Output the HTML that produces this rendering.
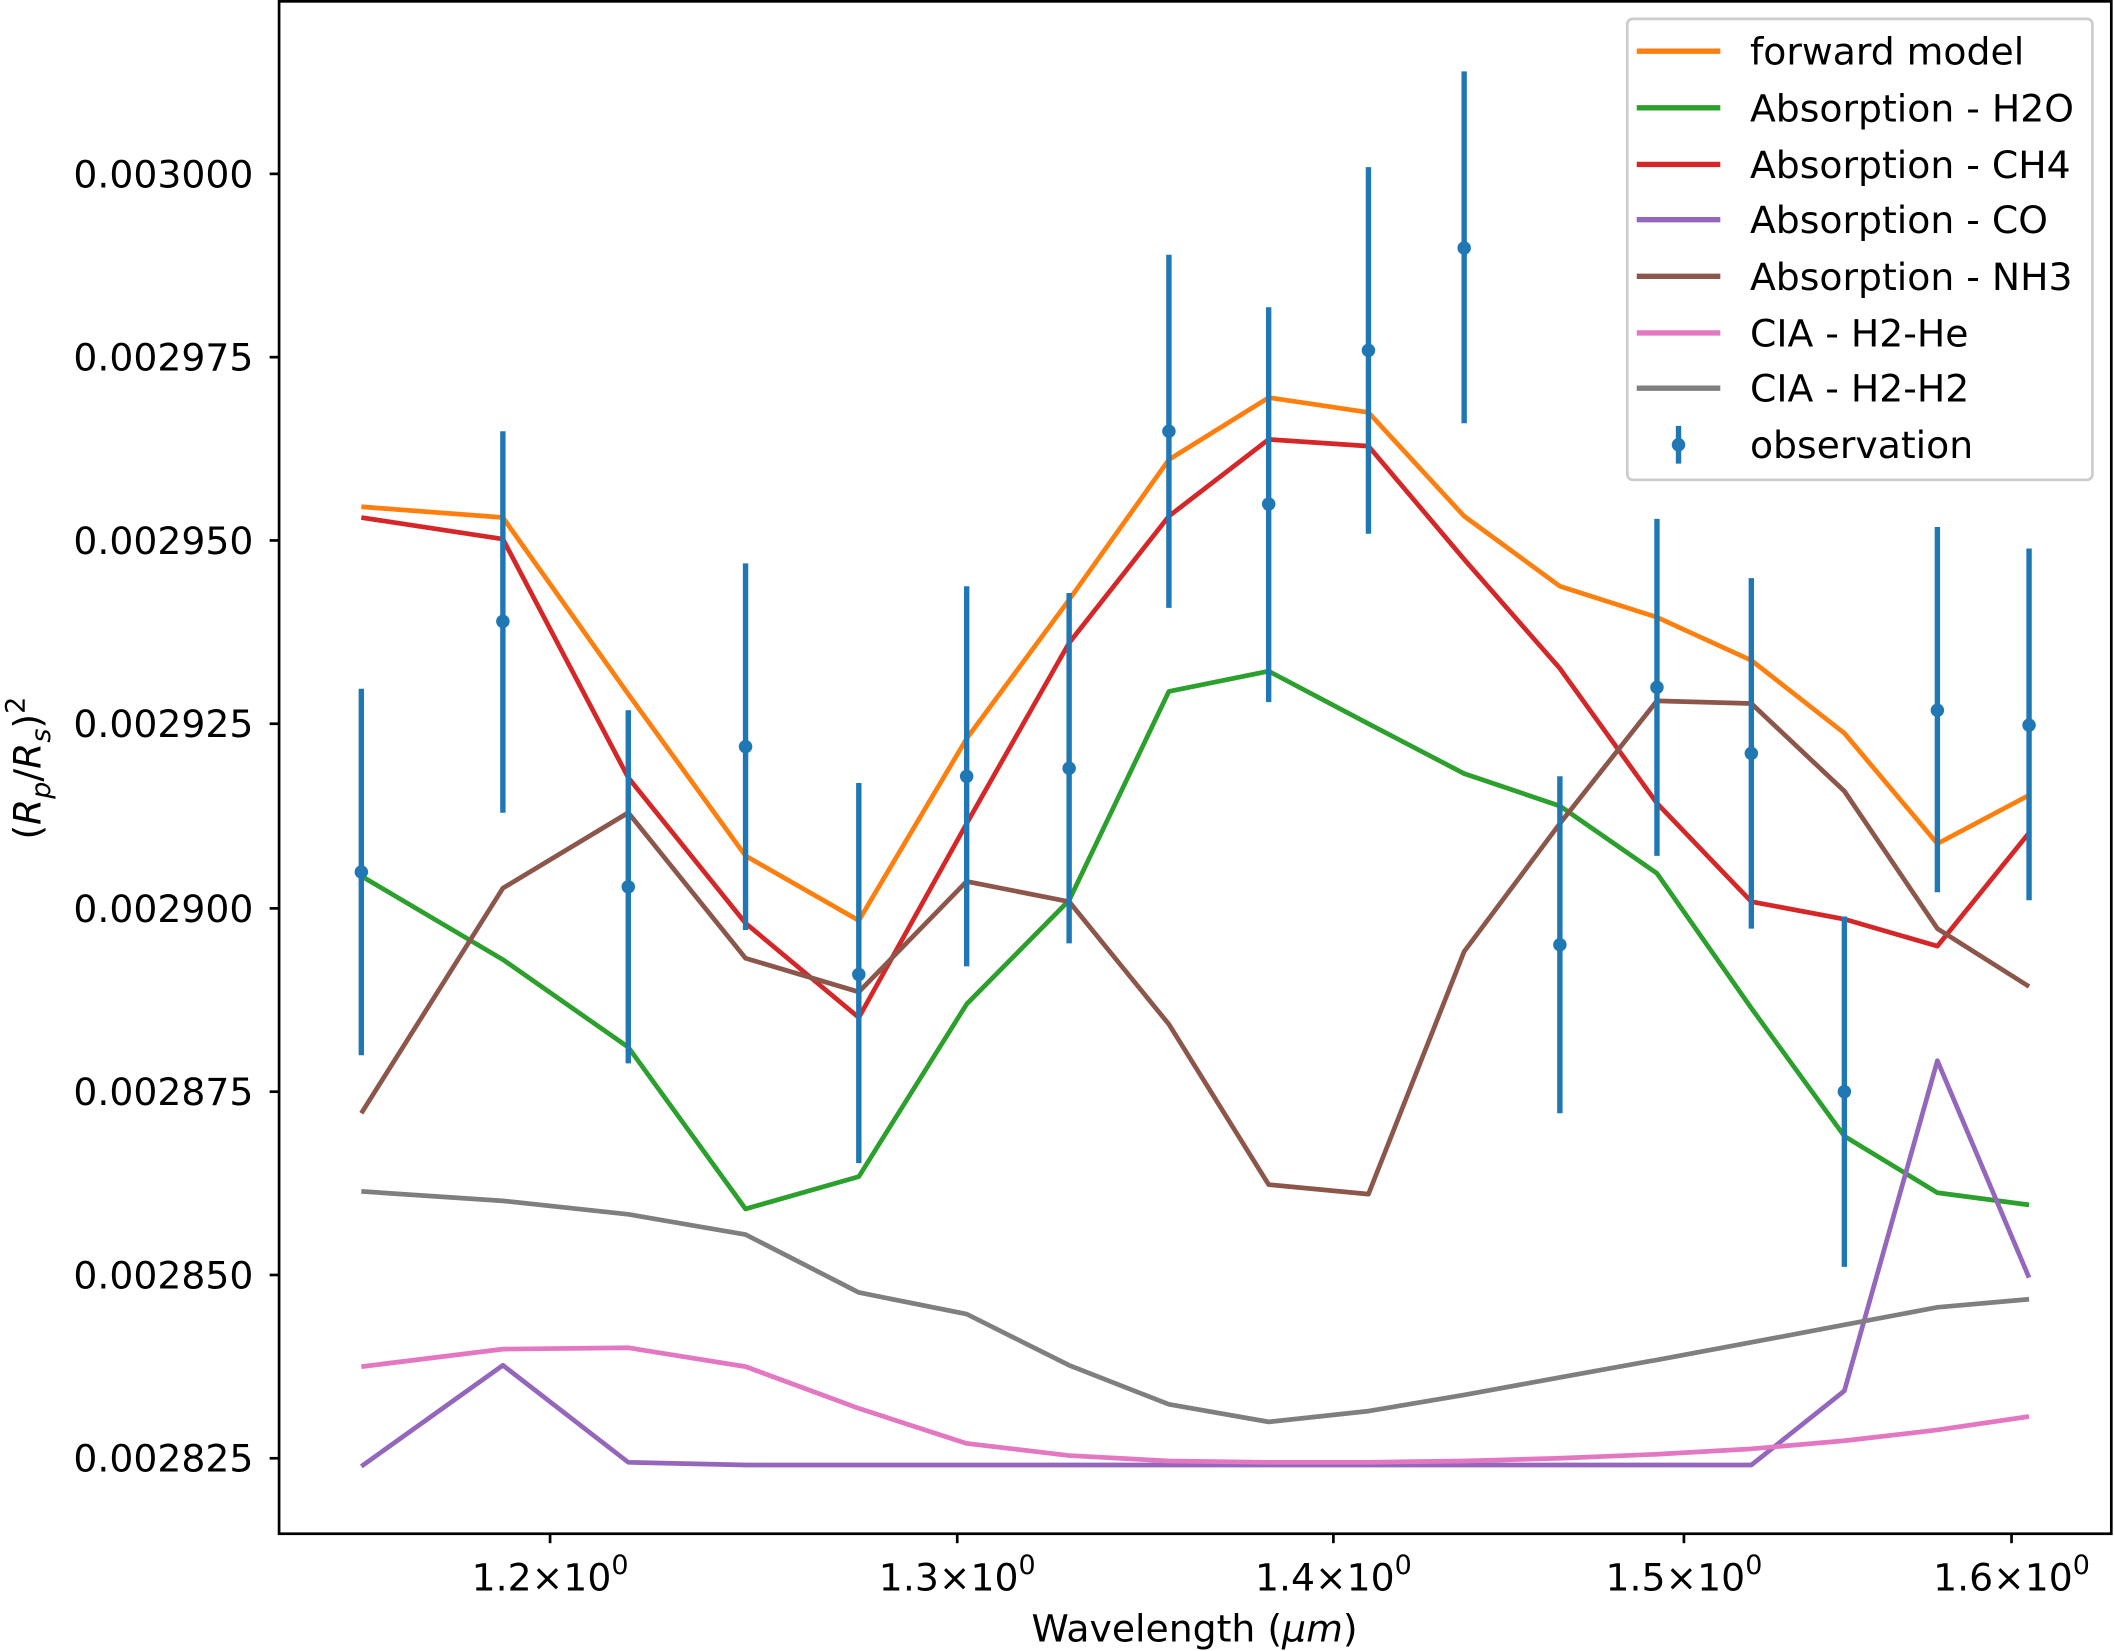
<!DOCTYPE html>
<html><head><meta charset="utf-8"><style>
html,body{margin:0;padding:0;background:#fff;}
svg{display:block;}
text{font-family:"DejaVu Sans","Liberation Sans",sans-serif;fill:#000;}
</style></head><body>
<svg width="2114" height="1651" viewBox="0 0 1568 1225" preserveAspectRatio="none" xmlns="http://www.w3.org/2000/svg">
<rect x="0" y="0" width="1568" height="1225" fill="#fff"/>
<g fill="none" stroke-width="3.5" stroke-linejoin="round">
<polyline stroke="#ff7f0e" points="268,376 373,384 466,515 553,635 637,683 717,548 793,445 867,341 941,295 1015,306 1086,383 1157,435 1229,458 1299,490 1368,544 1437,626 1505,590"/>
<polyline stroke="#2ca02c" points="268,650 373,712 466,777 553,897 637,873 717,745 793,668 867,513 941,498 1015,537 1086,574 1157,598 1229,648 1299,748 1368,843 1437,885 1505,894"/>
<polyline stroke="#d62728" points="268,384 373,400 466,577 553,685 637,755 717,611 793,477 867,383 941,326 1015,331 1086,415 1157,496 1229,596 1299,669 1368,682 1437,702 1505,618"/>
<polyline stroke="#9467bd" points="268,1088 373,1013 466,1085 553,1087 637,1087 717,1087 793,1087 867,1087 941,1087 1015,1087 1086,1087 1157,1087 1229,1087 1299,1087 1368,1032 1437,787 1505,948"/>
<polyline stroke="#8c564b" points="268,826 373,659 466,603 553,711 637,736 717,654 793,669 867,760 941,879 1015,886 1086,706 1157,611 1229,520 1299,522 1368,587 1437,689 1505,732"/>
<polyline stroke="#e377c2" points="268,1014 373,1001 466,1000 553,1014 637,1045 717,1071 793,1080 867,1084 941,1085 1015,1085 1086,1084 1157,1082 1229,1079 1299,1075 1368,1069 1437,1061 1505,1051"/>
<polyline stroke="#7f7f7f" points="268,884 373,891 466,901 553,916 637,959 717,975 793,1013 867,1042 941,1055 1015,1047 1086,1035 1157,1022 1229,1009 1299,996 1368,983 1437,970 1505,964"/>
</g>
<g stroke="#1f77b4" stroke-width="4">
<line x1="268" y1="511" x2="268" y2="783"/><line x1="373" y1="320" x2="373" y2="603"/>
<line x1="466" y1="527" x2="466" y2="789"/><line x1="553" y1="418" x2="553" y2="690"/>
<line x1="637" y1="581" x2="637" y2="863"/><line x1="717" y1="435" x2="717" y2="717"/>
<line x1="793" y1="440" x2="793" y2="700"/><line x1="867" y1="189" x2="867" y2="451"/>
<line x1="941" y1="228" x2="941" y2="521"/><line x1="1015" y1="124" x2="1015" y2="396"/>
<line x1="1086" y1="53" x2="1086" y2="314"/><line x1="1157" y1="576" x2="1157" y2="826"/>
<line x1="1229" y1="385" x2="1229" y2="635"/><line x1="1299" y1="429" x2="1299" y2="689"/>
<line x1="1368" y1="680" x2="1368" y2="940"/><line x1="1437" y1="391" x2="1437" y2="662"/>
<line x1="1505" y1="407" x2="1505" y2="668"/>
</g>
<g fill="#1f77b4">
<circle cx="268" cy="647" r="5"/><circle cx="373" cy="461" r="5"/><circle cx="466" cy="658" r="5"/><circle cx="553" cy="554" r="5"/><circle cx="637" cy="723" r="5"/><circle cx="717" cy="576" r="5"/><circle cx="793" cy="570" r="5"/><circle cx="867" cy="320" r="5"/><circle cx="941" cy="374" r="5"/><circle cx="1015" cy="260" r="5"/><circle cx="1086" cy="184" r="5"/><circle cx="1157" cy="701" r="5"/><circle cx="1229" cy="510" r="5"/><circle cx="1299" cy="559" r="5"/><circle cx="1368" cy="810" r="5"/><circle cx="1437" cy="527" r="5"/><circle cx="1505" cy="538" r="5"/>
</g>
<rect x="207" y="1" width="1359" height="1137" fill="none" stroke="#000" stroke-width="2"/>
<g stroke="#000" stroke-width="2">
<line x1="200" y1="129" x2="207" y2="129"/><line x1="200" y1="265" x2="207" y2="265"/><line x1="200" y1="401" x2="207" y2="401"/><line x1="200" y1="537" x2="207" y2="537"/><line x1="200" y1="674" x2="207" y2="674"/><line x1="200" y1="810" x2="207" y2="810"/><line x1="200" y1="946" x2="207" y2="946"/><line x1="200" y1="1082" x2="207" y2="1082"/>
<line x1="408" y1="1138" x2="408" y2="1145"/><line x1="710" y1="1138" x2="710" y2="1145"/><line x1="989" y1="1138" x2="989" y2="1145"/><line x1="1249" y1="1138" x2="1249" y2="1145"/><line x1="1492" y1="1138" x2="1492" y2="1145"/>
</g>
<g font-size="28" text-anchor="end">
<text x="188" y="139">0.003000</text><text x="188" y="275">0.002975</text><text x="188" y="411">0.002950</text><text x="188" y="547">0.002925</text><text x="188" y="684">0.002900</text><text x="188" y="820">0.002875</text><text x="188" y="956">0.002850</text><text x="188" y="1092">0.002825</text>
</g>
<g font-size="28" text-anchor="middle">
<text x="408" y="1180">1.2×10<tspan font-size="20" dy="-12">0</tspan></text>
<text x="710" y="1180">1.3×10<tspan font-size="20" dy="-12">0</tspan></text>
<text x="989" y="1180">1.4×10<tspan font-size="20" dy="-12">0</tspan></text>
<text x="1249" y="1180">1.5×10<tspan font-size="20" dy="-12">0</tspan></text>
<text x="1492" y="1180">1.6×10<tspan font-size="20" dy="-12">0</tspan></text>
<text x="886" y="1218">Wavelength (<tspan font-style="italic">μm</tspan>)</text>
<text transform="translate(30,570) rotate(-90)">(<tspan font-style="italic">R</tspan><tspan font-size="20" dy="7" font-style="italic">p</tspan><tspan dy="-7">/</tspan><tspan font-style="italic">R</tspan><tspan font-size="20" dy="7" font-style="italic">s</tspan><tspan dy="-7">)</tspan><tspan font-size="20" dy="-12">2</tspan></text>
</g>
<rect x="1207" y="14" width="345" height="342" rx="4" fill="#fff" fill-opacity="0.8" stroke="#ccc" stroke-width="2"/>
<g stroke-width="4">
<line x1="1214" y1="38" x2="1276" y2="38" stroke="#ff7f0e"/>
<line x1="1214" y1="80" x2="1276" y2="80" stroke="#2ca02c"/>
<line x1="1214" y1="122" x2="1276" y2="122" stroke="#d62728"/>
<line x1="1214" y1="163" x2="1276" y2="163" stroke="#9467bd"/>
<line x1="1214" y1="205" x2="1276" y2="205" stroke="#8c564b"/>
<line x1="1214" y1="247" x2="1276" y2="247" stroke="#e377c2"/>
<line x1="1214" y1="288" x2="1276" y2="288" stroke="#7f7f7f"/>
<line x1="1245" y1="316" x2="1245" y2="344" stroke="#1f77b4"/>
</g>
<circle cx="1245" cy="330" r="5" fill="#1f77b4"/>
<g font-size="28">
<text x="1298" y="48">forward model</text>
<text x="1298" y="90">Absorption - H2O</text>
<text x="1298" y="132">Absorption - CH4</text>
<text x="1298" y="173">Absorption - CO</text>
<text x="1298" y="215">Absorption - NH3</text>
<text x="1298" y="257">CIA - H2-He</text>
<text x="1298" y="298">CIA - H2-H2</text>
<text x="1298" y="340">observation</text>
</g>
</svg>
</body></html>
